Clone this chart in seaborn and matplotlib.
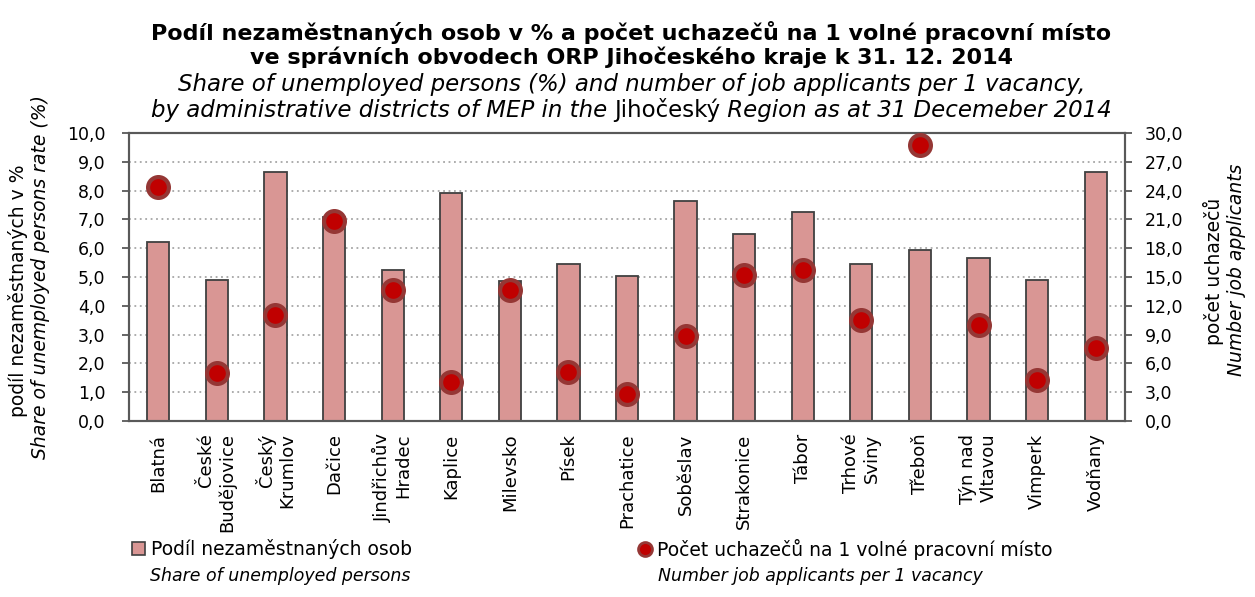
import numpy as np
import pandas as pd
import matplotlib
matplotlib.use("Agg")
import matplotlib.pyplot as plt
import seaborn as sns
from matplotlib.ticker import FuncFormatter, MultipleLocator, FixedLocator
from matplotlib.lines import Line2D
from matplotlib.patches import Patch

# data
districts = ["Blatná", "České\nBudějovice", "Český\nKrumlov", "Dačice", "Jindřichův\nHradec",
             "Kaplice", "Milevsko", "Písek", "Prachatice", "Soběslav", "Strakonice", "Tábor",
             "Trhové\nSviny", "Třeboň", "Týn nad\nVltavou", "Vimperk", "Vodňany"]
unemployed_share = [6.2, 4.9, 8.65, 7.1, 5.25, 7.9, 4.85, 5.45, 5.05, 7.65, 6.5, 7.25,
                    5.45, 5.95, 5.65, 4.9, 8.65]
applicants_per_vacancy = [24.4, 5.0, 11.0, 20.8, 13.6, 4.1, 13.6, 5.1, 2.8, 8.9, 15.2, 15.7,
                          10.5, 28.7, 10.0, 4.3, 7.6]

bar_color = "#D99694"
dot_color = "#C00000"
dot_edge = "#953735"
axis_color = "#595959"

sns.set_style("white")
plt.rcParams["font.family"] = ["DejaVu Sans"]
plt.rcParams["text.color"] = "black"
plt.rcParams["xtick.color"] = "black"
plt.rcParams["ytick.color"] = "black"
plt.rcParams["axes.labelcolor"] = "black"

df = pd.DataFrame({"district": districts, "share": unemployed_share,
                   "applicants": applicants_per_vacancy, "pos": np.arange(len(districts))})

W, H = 1255, 597
fig = plt.figure(figsize=(W / 100, H / 100), dpi=100)
ax = fig.add_axes([129 / W, 1 - 421 / H, (1125 - 129) / W, (421 - 133) / H])

sns.barplot(data=df, x="district", y="share", ax=ax, color=bar_color, saturation=1,
            edgecolor="#404040", linewidth=1.3, width=0.38, errorbar=None, zorder=2)

ax2 = ax.twinx()
sns.scatterplot(data=df, x="pos", y="applicants", ax=ax2, s=225, color=dot_color,
                edgecolor=dot_edge, linewidth=3, zorder=3)

comma = FuncFormatter(lambda v, p: f"{v:.1f}".replace(".", ","))

ax.set_ylim(0, 10)
ax.yaxis.set_major_locator(MultipleLocator(1))
ax.yaxis.set_major_formatter(comma)
ax2.set_ylim(0, 30)
ax2.yaxis.set_major_locator(MultipleLocator(3))
ax2.yaxis.set_major_formatter(comma)
ax.set_xlim(-0.5, len(districts) - 0.5)

ax.set_axisbelow(True)
ax.yaxis.grid(True, linestyle=(0, (1, 2)), color="#A6A6A6", linewidth=1.3)
ax.xaxis.grid(False)

ax.set_xlabel("")
ax.set_ylabel("")
ax2.set_xlabel("")
ax2.set_ylabel("")

ax.xaxis.set_minor_locator(FixedLocator(np.arange(-0.5, len(districts), 1)))
ax.tick_params(axis="x", which="major", length=0, pad=9, labelsize=13)
ax.tick_params(axis="x", which="minor", length=5, width=1.3, color=axis_color, direction="out")
ax.tick_params(axis="y", length=5, width=1.3, color=axis_color, direction="out", labelsize=12.5,
               left=True, pad=12)
ax2.tick_params(axis="y", length=5, width=1.3, color=axis_color, direction="out", labelsize=12.5,
                right=True, pad=9)
for lab in ax.get_xticklabels():
    lab.set_rotation(90)
    lab.set_ha("center")
    lab.set_va("top")
    lab.set_multialignment("right")

for a in (ax, ax2):
    for s in a.spines.values():
        s.set_color(axis_color)
        s.set_linewidth(1.5)

# titles
fig.text(0.503, 1 - 33 / H, "Podíl nezaměstnaných osob v % a počet uchazečů na 1 volné pracovní místo",
         ha="center", va="center", fontsize=16, fontweight="bold")
fig.text(0.503, 1 - 57 / H, "ve správních obvodech ORP Jihočeského kraje k 31. 12. 2014",
         ha="center", va="center", fontsize=16, fontweight="bold")
fig.text(0.503, 1 - 85 / H, "Share of unemployed persons (%) and number of job applicants per 1 vacancy,",
         ha="center", va="center", fontsize=16.5, style="italic")

pieces = [("by administrative districts of MEP in the ", "italic"), ("Jihočeský", "normal"),
          (" Region as at 31 Decemeber 2014", "italic")]
renderer = fig.canvas.get_renderer()
texts = [fig.text(0, 1 - 110 / H, t, ha="left", va="center", fontsize=16.5, style=st) for t, st in pieces]
widths = [t.get_window_extent(renderer).width for t in texts]
x0 = 0.503 * W - sum(widths) / 2
for t, w in zip(texts, widths):
    t.set_x(x0 / W)
    x0 += w

# axis titles
fig.text(18 / W, 1 - 291 / H, "podíl nezaměstnaných v %", rotation=90, ha="center", va="center",
         fontsize=13.5)
fig.text(41 / W, 1 - 277 / H, "Share of unemployed persons rate (%)", rotation=90, ha="center",
         va="center", fontsize=13.5, style="italic")
fig.text(1213 / W, 1 - 271 / H, "počet uchazečů", rotation=90, ha="center", va="center", fontsize=13.5)
fig.text(1236 / W, 1 - 270 / H, "Number job applicants", rotation=90, ha="center", va="center",
         fontsize=13.5, style="italic")

# legend
h_bar = Patch(facecolor=bar_color, edgecolor="#404040", linewidth=1.2)
h_dot = Line2D([], [], marker="o", linestyle="none", markersize=10, markerfacecolor=dot_color,
               markeredgecolor=dot_edge, markeredgewidth=2)
for h, lab, x in [(h_bar, "Podíl nezaměstnaných osob", 132), (h_dot, "Počet uchazečů na 1 volné pracovní místo", 638)]:
    fig.legend(handles=[h], labels=[lab], loc="center left", bbox_to_anchor=(x / W, 1 - 549 / H),
               frameon=False, fontsize=13.5, handlelength=0.7, handleheight=0.7, handletextpad=0.3,
               borderpad=0, borderaxespad=0)
fig.text(150 / W, 1 - 576 / H, "Share of unemployed persons", ha="left", va="center", fontsize=12.5,
         style="italic")
fig.text(658 / W, 1 - 576 / H, "Number job applicants per 1 vacancy", ha="left", va="center", fontsize=12.5,
         style="italic")

fig.savefig("out.png", dpi=100)
